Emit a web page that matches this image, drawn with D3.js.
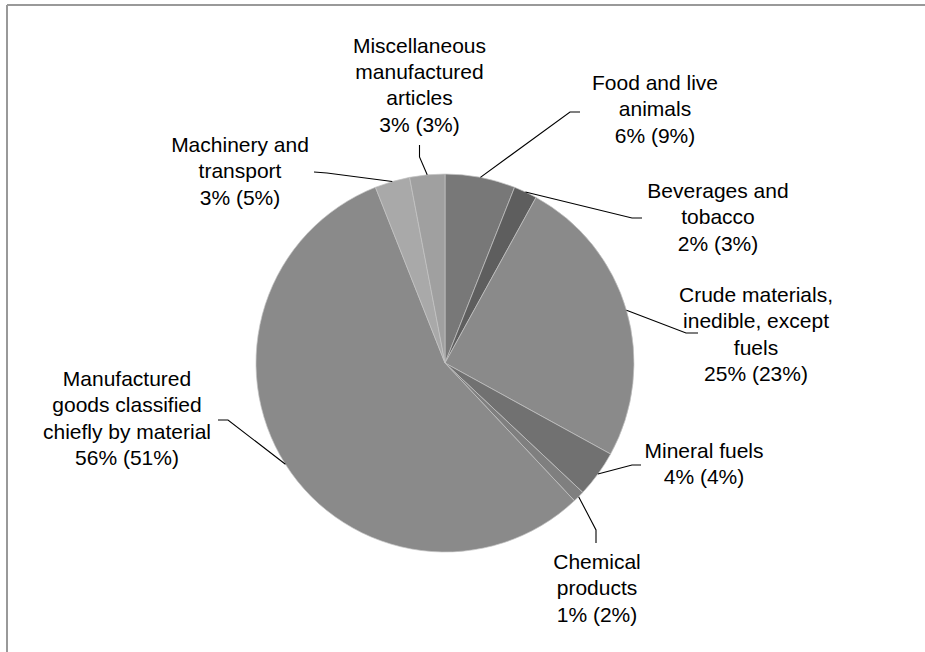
<!DOCTYPE html>
<html>
<head>
<meta charset="utf-8">
<script src="https://cdn.jsdelivr.net/npm/d3@7"></script>
<style>
  html, body { margin: 0; padding: 0; background: #fff; }
  svg { display: block; }
  text { font-family: "Liberation Sans", Arial, sans-serif; font-size: 21px; fill: #000; }
</style>
</head>
<body>
<svg id="chart" width="925" height="652"></svg>
<script>
// ---- data ----
const categories = [
  "Food and live animals",
  "Beverages and tobacco",
  "Crude materials, inedible, except fuels",
  "Mineral fuels",
  "Chemical products",
  "Manufactured goods classified chiefly by material",
  "Machinery and transport",
  "Miscellaneous manufactured articles"
];
const shares = [6, 2, 25, 4, 1, 56, 3, 3];          // slice values (%)
const sharesPrev = [9, 3, 23, 4, 2, 51, 5, 3];      // values in parentheses (%)
const labelLines = [
  ["Food and live", "animals"],
  ["Beverages and", "tobacco"],
  ["Crude materials,", "inedible, except", "fuels"],
  ["Mineral fuels"],
  ["Chemical", "products"],
  ["Manufactured", "goods classified", "chiefly by material"],
  ["Machinery and", "transport"],
  ["Miscellaneous", "manufactured", "articles"]
];
const colors = ["#787878", "#5e5e5e", "#8a8a8a", "#717171", "#7f7f7f", "#8a8a8a", "#a9a9a9", "#a0a0a0"];

// ---- layout (label placement, not data) ----
const layout = [
  { x: 655, y: 90,  elbow: [570, 112], end: [580, 112] },
  { x: 718, y: 198, elbow: [632, 218], end: [642, 218] },
  { x: 756, y: 302, elbow: [686, 333], end: [698, 333] },
  { x: 704, y: 458, elbow: [632, 465], end: [641, 465] },
  { x: 597, y: 569, elbow: [596, 530], end: [596, 543] },
  { x: 127, y: 386, elbow: [228, 420], end: [218, 420] },
  { x: 240, y: 152, elbow: [327, 173], end: [314, 172] },
  { x: 419.5, y: 52.7, elbow: [419.5, 157], end: [419.5, 145] }
];
const lineH = 26.3;

const svg = d3.select("#chart");

// frame
svg.append("line").attr("x1", 7).attr("y1", 5).attr("x2", 925).attr("y2", 5)
  .attr("stroke", "#999").attr("stroke-width", 2);
svg.append("line").attr("x1", 7).attr("y1", 5).attr("x2", 7).attr("y2", 652)
  .attr("stroke", "#999").attr("stroke-width", 2);

const cx = 445, cy = 363, r = 189;
const data = categories.map((c, i) => ({ name: c, value: shares[i], prev: sharesPrev[i], i }));
const pie = d3.pie().value(d => d.value).sort(null);
const arcs = pie(data);
const arc = d3.arc().innerRadius(0).outerRadius(r);

const g = svg.append("g").attr("transform", `translate(${cx},${cy})`);
g.selectAll("path").data(arcs).join("path")
  .attr("d", arc)
  .attr("fill", d => colors[d.data.i])
  .attr("stroke", "#c4c4c4")
  .attr("stroke-width", 0.7);

// leader lines
arcs.forEach(d => {
  const L = layout[d.data.i];
  const mid = (d.startAngle + d.endAngle) / 2;
  const sx = cx + r * Math.sin(mid), sy = cy - r * Math.cos(mid);
  svg.append("polyline")
    .attr("points", [[sx, sy], L.elbow, L.end].map(p => p.join(",")).join(" "))
    .attr("fill", "none").attr("stroke", "#000").attr("stroke-width", 1.1);
});

// labels
arcs.forEach(d => {
  const L = layout[d.data.i];
  const lines = labelLines[d.data.i].concat([`${d.data.value}% (${d.data.prev}%)`]);
  const t = svg.append("text").attr("text-anchor", "middle");
  lines.forEach((s, k) => {
    t.append("tspan").attr("x", L.x).attr("y", L.y + k * lineH).text(s);
  });
});
</script>
</body>
</html>
